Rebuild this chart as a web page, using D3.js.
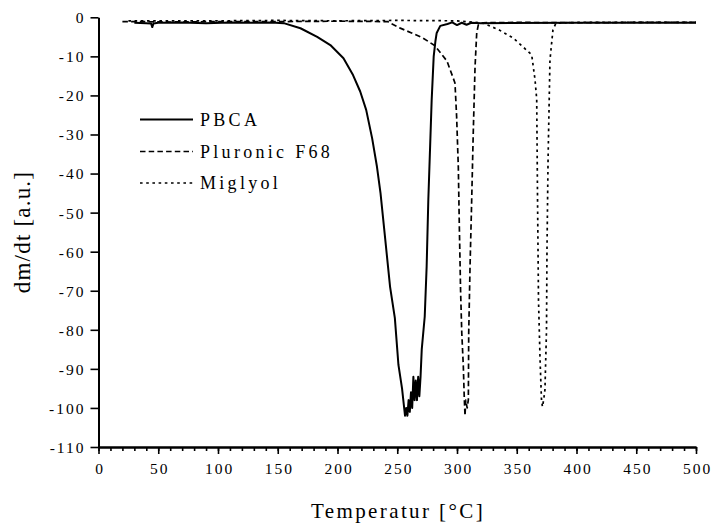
<!DOCTYPE html>
<html>
<head>
<meta charset="utf-8">
<script src="https://cdn.jsdelivr.net/npm/d3@7"></script>
<style>
  html, body { margin: 0; padding: 0; background: #fff; }
  svg { display: block; }
  text { font-family: "Liberation Serif", "Times New Roman", Times, "DejaVu Serif", serif; fill: #000; }
</style>
</head>
<body>
<svg id="chart" width="714" height="531"></svg>
<script>
// ---- data ----
const xTicks = [0, 50, 100, 150, 200, 250, 300, 350, 400, 450, 500];
const xMinorTicks = d3.range(0, 501, 10);
const yTicks = [0, -10, -20, -30, -40, -50, -60, -70, -80, -90, -100, -110];
const seriesNames = ["PBCA", "Pluronic F68", "Miglyol"];

const pbcaT = [30, 40, 44, 45, 46, 50, 70, 90, 110, 130, 145, 155, 169, 183, 194, 205, 213, 219, 224, 229, 233, 236, 240, 244, 248, 251, 254, 256.5, 257.5, 258.5, 259.5, 260.5, 261.5, 262.5, 263.5, 264.5, 265.5, 266.5, 267.5, 268.5, 269.5, 270.5, 273, 274.6, 276, 277.4, 278.8, 280.5, 282, 283, 286, 292, 296, 300, 304, 308, 312, 320, 400, 500];
const pbcaV = [-1.4, -1.5, -1.6, -2.5, -1.6, -1.4, -1.3, -1.5, -1.3, -1.4, -1.3, -1.5, -2.8, -5.0, -7.1, -10.5, -14.8, -19.0, -23.7, -31.0, -38.2, -45.0, -57.0, -69.0, -77.0, -89.0, -95.0, -102.0, -100.0, -102.0, -98.0, -101.0, -96.0, -100.0, -92.0, -98.0, -93.0, -98.0, -92.0, -97.0, -92.0, -85.0, -76.6, -63.8, -46.7, -34.0, -21.2, -10.0, -6.0, -4.0, -2.2, -1.7, -1.3, -2.0, -1.4, -1.9, -1.4, -1.5, -1.4, -1.4];

const plT = [20, 30, 60, 100, 150, 200, 242, 252, 262, 271.5, 281.6, 291.6, 298.3, 299.7, 301.1, 301.9, 303, 304, 305.3, 306, 306.7, 307.3, 308.5, 309.5, 309.8, 310.9, 312.3, 313.6, 315.1, 316.5, 317.8, 322, 350, 400, 450, 500];
const plV = [-1.1, -1.1, -1.2, -1.1, -1.1, -1.0, -1.1, -2.7, -4.0, -5.3, -7.3, -11.2, -16.8, -25.5, -38.3, -52.6, -70.0, -80.8, -89.4, -96.6, -102.0, -98.0, -100.0, -97.9, -80.8, -63.9, -46.7, -29.6, -12.7, -4.0, -2.0, -1.4, -1.3, -1.4, -1.3, -1.3];

const mgT = [25, 50, 100, 150, 200, 250, 300, 322, 335, 347, 355, 362.5, 365.3, 366.7, 367.4, 368.2, 369.5, 370.7, 371.5, 372.5, 373.6, 374.9, 375.3, 376.2, 377, 377.8, 380.3, 382.8, 400, 450, 500];
const mgV = [-0.9, -0.9, -0.9, -0.8, -0.9, -0.8, -0.9, -1.5, -3.2, -5.3, -7.5, -9.6, -16.0, -21.0, -46.7, -72.3, -87.6, -97.9, -99.7, -98.0, -95.3, -80.0, -59.5, -36.5, -23.7, -10.9, -3.2, -1.5, -1.3, -1.3, -1.3];

// ---- layout ----
const FONT = '"Liberation Serif", "Times New Roman", Times, "DejaVu Serif", serif';
const svg = d3.select("#chart");
const x = d3.scaleLinear().domain([0, 500]).range([98.5, 696]);
const y = d3.scaleLinear().domain([-110, 0]).range([447, 17.3]);

const series = [
  { name: seriesNames[0], t: pbcaT, v: pbcaV, dash: null, w: 2 },
  { name: seriesNames[1], t: plT, v: plV, dash: "5.5,3.2", w: 1.7 },
  { name: seriesNames[2], t: mgT, v: mgV, dash: "2.6,3.6", w: 1.7 }
];

const line = d3.line().x(d => x(d[0])).y(d => y(d[1]));

// curves
series.slice().reverse().forEach(s => {
  const pts = s.t.map((t, i) => [t, s.v[i]]);
  svg.append("path")
    .attr("d", line(pts))
    .attr("fill", "none")
    .attr("stroke", "#000")
    .attr("stroke-width", s.w)
    .attr("stroke-linejoin", "round")
    .attr("stroke-dasharray", s.dash);
});

const fmt = d => String(d);

// axes
const yAxis = svg.append("g")
  .attr("transform", `translate(${x(0)},0)`)
  .call(d3.axisLeft(y).tickValues(yTicks).tickSize(8).tickSizeOuter(0).tickPadding(5).tickFormat(fmt));
const xMinor = svg.append("g")
  .attr("transform", `translate(0,${y(-110)})`)
  .call(d3.axisBottom(x).tickValues(xMinorTicks).tickSize(4).tickSizeOuter(0).tickFormat(""));
const xAxis = svg.append("g")
  .attr("transform", `translate(0,${y(-110)})`)
  .call(d3.axisBottom(x).tickValues(xTicks).tickSize(7).tickSizeOuter(0).tickPadding(9).tickFormat(fmt));

[yAxis, xAxis, xMinor].forEach(g => {
  g.attr("font-family", FONT);
  g.select(".domain").attr("stroke", "#000").attr("stroke-width", 2);
  g.selectAll(".tick line").attr("stroke", "#000").attr("stroke-width", 1.6);
  g.selectAll("text")
    .attr("font-family", FONT)
    .style("font-family", FONT)
    .style("font-size", "15.5px")
    .style("letter-spacing", "2px")
    .attr("fill", "#000");
});
yAxis.selectAll("text").attr("dy", "0.35em");
xAxis.selectAll("text").attr("dx", "1px");

// axis titles
svg.append("text")
  .attr("x", 398).attr("y", 518)
  .attr("text-anchor", "middle")
  .style("font-family", FONT)
  .style("font-size", "21px")
  .style("letter-spacing", "2.4px")
  .text("Temperatur [°C]");

svg.append("text")
  .attr("transform", "translate(30,232) rotate(-90)")
  .attr("text-anchor", "middle")
  .style("font-family", FONT)
  .style("font-size", "23px")
  .style("letter-spacing", "1.2px")
  .text("dm/dt [a.u.]");

// legend
const legY = [119.5, 151.5, 183];
series.forEach((s, i) => {
  svg.append("line")
    .attr("x1", 140).attr("x2", 193)
    .attr("y1", legY[i]).attr("y2", legY[i])
    .attr("stroke", "#000")
    .attr("stroke-width", s.w)
    .attr("stroke-dasharray", s.dash);
  svg.append("text")
    .attr("x", 200).attr("y", legY[i] + 6)
    .style("font-family", FONT)
    .style("font-size", "18px")
    .style("letter-spacing", "3.3px")
    .text(s.name);
});
</script>
</body>
</html>
